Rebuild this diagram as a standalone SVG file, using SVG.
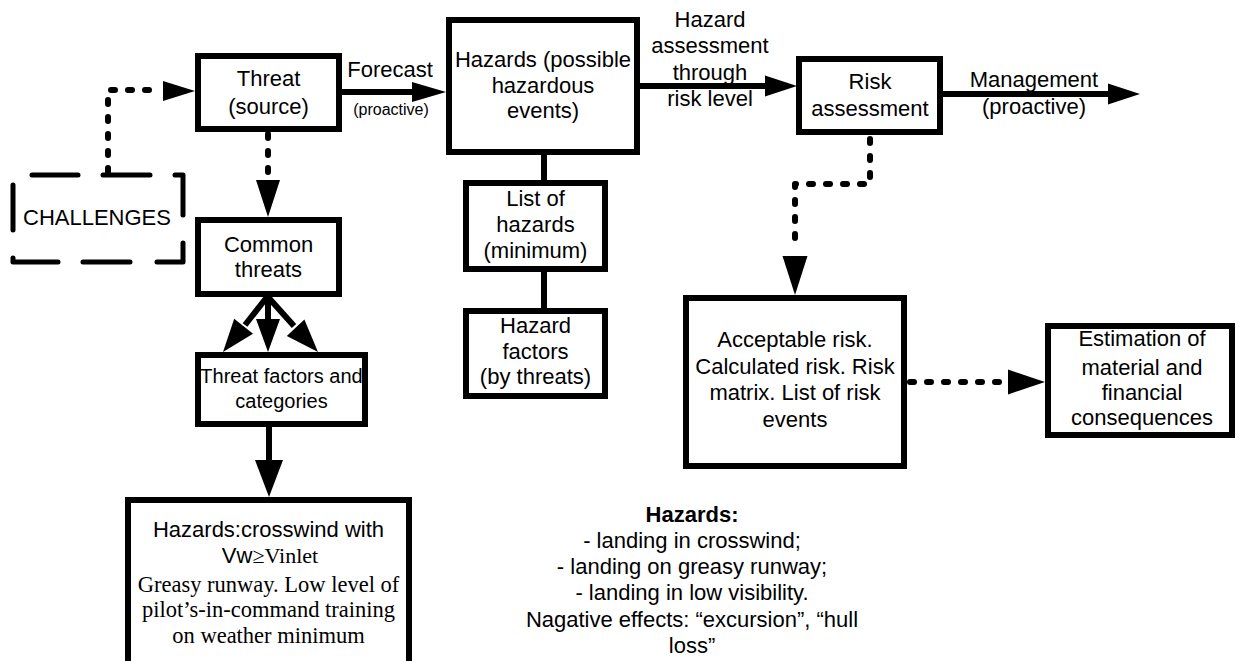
<svg xmlns="http://www.w3.org/2000/svg" width="1239" height="661" viewBox="0 0 1239 661">
<style>
.box{fill:#fff;stroke:#000;stroke-width:6}
.t{font-family:"Liberation Sans",Arial,sans-serif;font-size:22px;fill:#000;text-anchor:middle}
.sm{font-size:16px}
.md{font-size:20px}
.b{font-weight:bold}
.s{font-family:"Liberation Serif","Times New Roman",serif}
.sl{font-size:22.5px}
.ln{fill:none;stroke:#000;stroke-width:6}
.dot{fill:none;stroke:#000;stroke-width:6;stroke-dasharray:4 13;stroke-linecap:round;stroke-linejoin:round}
.dash{fill:none;stroke:#000;stroke-width:5;stroke-linecap:round;stroke-linejoin:round}
.ah{fill:#000}
</style>
<rect width="1239" height="661" fill="#fff"/>

<g id="challenges">
  <path class="dash" d="M32,175 H78 M103,175 H150 M175,175 H183 V215 M183,243 V262 H157 M130,262 H83 M58,262 H13 V258 M13,185 V230"/>
  <text class="t" x="97" y="225">CHALLENGES</text>
</g>

<g id="threat">
  <rect class="box" x="198" y="56" width="141" height="73"/>
  <text class="t" x="268.5" y="86">Threat</text>
  <text class="t" x="268.5" y="114">(source)</text>
</g>

<g id="common-threats">
  <rect class="box" x="198" y="220" width="141" height="74"/>
  <text class="t" x="268.5" y="252">Common</text>
  <text class="t" x="268.5" y="277">threats</text>
</g>

<g id="threat-factors">
  <rect class="box" x="198" y="355" width="167" height="69"/>
  <text class="t md" x="281.5" y="383">Threat factors and</text>
  <text class="t md" x="281.5" y="408">categories</text>
</g>

<g id="hazards-crosswind">
  <rect class="box" x="128" y="500" width="281" height="200"/>
  <text class="t" x="268.5" y="537">Hazards:crosswind with</text>
  <text class="t" x="270" y="563">Vw<tspan class="s">≥Vinlet</tspan></text>
  <text class="t s sl" x="268.5" y="592">Greasy runway. Low level of</text>
  <text class="t s sl" x="268.5" y="617">pilot’s-in-command training</text>
  <text class="t s sl" x="268.5" y="643">on weather minimum</text>
</g>

<g id="hazards">
  <rect class="box" x="449" y="20" width="188" height="132"/>
  <text class="t" x="543" y="67">Hazards (possible</text>
  <text class="t" x="543" y="93">hazardous</text>
  <text class="t" x="543" y="118">events)</text>
</g>

<g id="list-of-hazards">
  <rect class="box" x="466" y="183" width="139" height="86"/>
  <text class="t" x="535.5" y="206">List of</text>
  <text class="t" x="535.5" y="232">hazards</text>
  <text class="t" x="535.5" y="258">(minimum)</text>
</g>

<g id="hazard-factors">
  <rect class="box" x="466" y="311" width="139" height="85"/>
  <text class="t" x="535.5" y="333">Hazard</text>
  <text class="t" x="535.5" y="359">factors</text>
  <text class="t" x="535.5" y="384">(by threats)</text>
</g>

<g id="risk-assessment">
  <rect class="box" x="799" y="59" width="141" height="73"/>
  <text class="t" x="870" y="89">Risk</text>
  <text class="t" x="870" y="116">assessment</text>
</g>

<g id="acceptable-risk">
  <rect class="box" x="686" y="298" width="218" height="168"/>
  <text class="t" x="795" y="347">Acceptable risk.</text>
  <text class="t" x="795" y="374">Calculated risk. Risk</text>
  <text class="t" x="795" y="400">matrix. List of risk</text>
  <text class="t" x="795" y="427">events</text>
</g>

<g id="estimation">
  <rect class="box" x="1048" y="326" width="184" height="109"/>
  <text class="t" x="1142" y="346">Estimation of</text>
  <text class="t" x="1142" y="375">material and</text>
  <text class="t" x="1142" y="400">financial</text>
  <text class="t" x="1142" y="425">consequences</text>
</g>

<g id="hazards-note">
  <text class="t b" x="692" y="522">Hazards:</text>
  <text class="t" x="692" y="548">- landing in crosswind;</text>
  <text class="t" x="692" y="574">- landing on greasy runway;</text>
  <text class="t" x="692" y="600">- landing in low visibility.</text>
  <text class="t" x="692" y="627">Nagative effects: “excursion”, “hull</text>
  <text class="t" x="692" y="653">loss”</text>
</g>

<g id="connectors">
  <path class="dot" d="M108,172 V90 H158"/>
  <polygon class="ah" points="195,91 163,81 163,101"/>

  <path class="dot" d="M268,134 V176"/>
  <polygon class="ah" points="268,217 256,180 280,180"/>

  <path class="ln" d="M342,92 H413"/>
  <polygon class="ah" points="446,92 412,82 412,102"/>
  <text class="t" x="390" y="77">Forecast</text>
  <text class="t sm" x="391" y="115">(proactive)</text>

  <path class="ln" d="M640,86 H766"/>
  <polygon class="ah" points="797,86 765,75.5 765,96.5"/>
  <text class="t" x="710" y="27">Hazard</text>
  <text class="t" x="710" y="53">assessment</text>
  <text class="t" x="710" y="80">through</text>
  <text class="t" x="710" y="106">risk level</text>

  <path class="ln" d="M943,94 H1109"/>
  <polygon class="ah" points="1140,94 1108,83.5 1108,104.5"/>
  <text class="t" x="1034" y="87">Management</text>
  <text class="t" x="1034" y="114">(proactive)</text>

  <path class="ln" d="M544,155 V180"/>
  <path class="ln" d="M544,272 V308"/>

  <path class="dot" d="M870,139 V184 H795 V250"/>
  <polygon class="ah" points="795,295 782.5,256 807.5,256"/>

  <path class="dot" d="M910,382 H1002"/>
  <polygon class="ah" points="1045,382 1008,369.5 1008,394.5"/>

  <path class="ln" d="M267,297 L245,325"/>
  <polygon class="ah" points="223,352 253,333.7 234.2,318.7"/>
  <path class="ln" d="M268,297 V320"/>
  <polygon class="ah" points="268,352 256,319 280,319"/>
  <path class="ln" d="M268,297 L294,326"/>
  <polygon class="ah" points="318,352 286.8,336 304.4,319.6"/>

  <path class="ln" d="M269,427 V461"/>
  <polygon class="ah" points="269,497 255,460 283,460"/>
</g>
</svg>
